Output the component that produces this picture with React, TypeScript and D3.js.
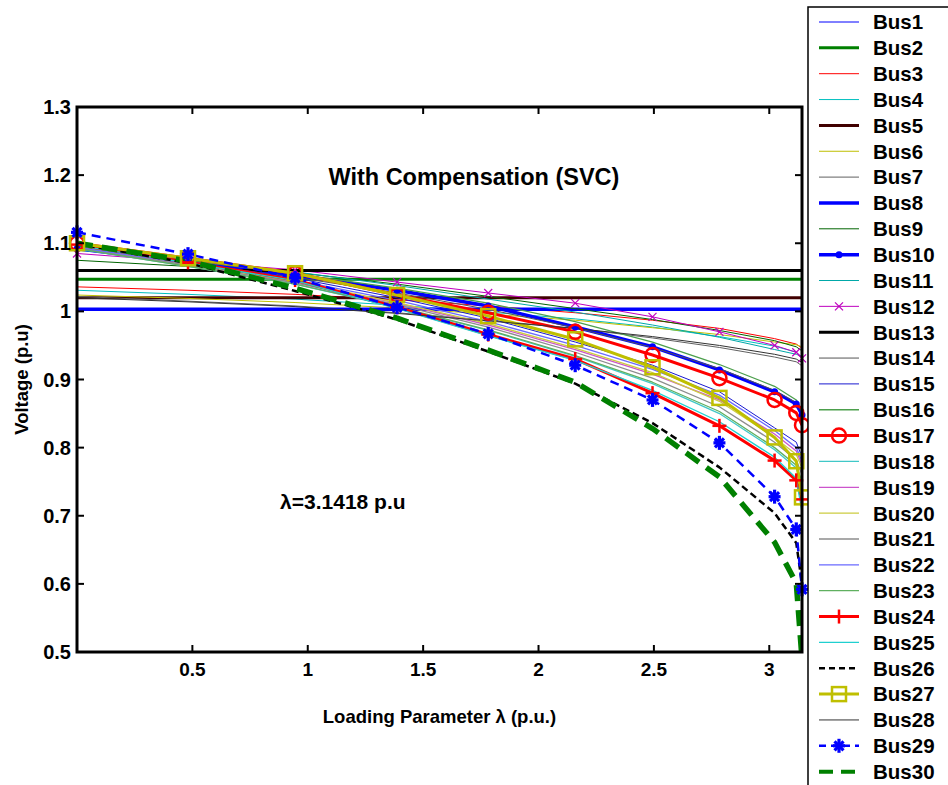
import React from "react";
import * as d3 from "d3";

const lambda = [0, 0.481, 0.945, 1.387, 1.782, 2.159, 2.494, 2.784, 3.023, 3.117, 3.1418];

const bus1 = [1.06, 1.06, 1.06, 1.06, 1.06, 1.06, 1.06, 1.06, 1.06, 1.06, 1.06];
const bus2 = [1.047, 1.047, 1.047, 1.047, 1.047, 1.047, 1.047, 1.047, 1.047, 1.047, 1.047];
const bus3 = [1.036, 1.031, 1.025, 1.017, 1.008, 0.998, 0.987, 0.975, 0.96, 0.952, 0.946];
const bus4 = [1.031, 1.025, 1.018, 1.009, 0.999, 0.989, 0.977, 0.963, 0.949, 0.94, 0.932];
const bus5 = [1.02, 1.02, 1.02, 1.02, 1.02, 1.02, 1.02, 1.02, 1.02, 1.02, 1.02];
const bus6 = [1.024, 1.019, 1.013, 1.005, 0.996, 0.987, 0.976, 0.966, 0.955, 0.951, 0.948];
const bus7 = [1.022, 1.015, 1.008, 0.998, 0.987, 0.975, 0.961, 0.947, 0.933, 0.926, 0.92];
const bus8 = [1.003, 1.003, 1.003, 1.003, 1.003, 1.003, 1.003, 1.003, 1.003, 1.003, 1.003];
const bus9 = [1.075, 1.066, 1.057, 1.04, 1.022, 1.004, 0.988, 0.972, 0.957, 0.948, 0.942];
const bus10 = [1.092, 1.072, 1.053, 1.031, 1.008, 0.977, 0.948, 0.914, 0.882, 0.864, 0.848];
const bus11 = [1.09, 1.075, 1.058, 1.038, 1.018, 0.999, 0.98, 0.962, 0.944, 0.937, 0.934];
const bus12 = [1.085, 1.073, 1.061, 1.043, 1.027, 1.012, 0.992, 0.97, 0.95, 0.94, 0.931];
const bus13 = [1.06, 1.06, 1.06, 1.06, 1.06, 1.06, 1.06, 1.06, 1.06, 1.06, 1.06];
const bus14 = [1.092, 1.071, 1.05, 1.027, 1.003, 0.976, 0.947, 0.916, 0.884, 0.866, 0.852];
const bus15 = [1.095, 1.072, 1.049, 1.02, 0.99, 0.955, 0.921, 0.882, 0.829, 0.808, 0.786];
const bus16 = [1.095, 1.075, 1.055, 1.034, 1.012, 0.985, 0.955, 0.922, 0.89, 0.87, 0.855];
const bus17 = [1.1, 1.078, 1.056, 1.024, 0.998, 0.97, 0.936, 0.902, 0.87, 0.851, 0.833];
const bus18 = [1.092, 1.066, 1.04, 1.006, 0.972, 0.934, 0.894, 0.85, 0.797, 0.77, 0.745];
const bus19 = [1.093, 1.068, 1.043, 1.012, 0.98, 0.944, 0.908, 0.87, 0.82, 0.795, 0.775];
const bus20 = [1.094, 1.069, 1.044, 1.013, 0.982, 0.946, 0.91, 0.868, 0.815, 0.79, 0.77];
const bus21 = [1.093, 1.068, 1.042, 1.01, 0.977, 0.94, 0.902, 0.86, 0.808, 0.782, 0.76];
const bus22 = [1.094, 1.07, 1.046, 1.016, 0.985, 0.95, 0.915, 0.877, 0.825, 0.8, 0.78];
const bus23 = [1.092, 1.066, 1.04, 1.007, 0.973, 0.935, 0.896, 0.853, 0.8, 0.774, 0.75];
const bus24 = [1.098, 1.072, 1.046, 1.006, 0.966, 0.93, 0.88, 0.832, 0.781, 0.752, 0.724];
const bus25 = [1.097, 1.071, 1.045, 1.004, 0.964, 0.928, 0.884, 0.838, 0.786, 0.755, 0.705];
const bus26 = [1.099, 1.071, 1.03, 0.988, 0.941, 0.894, 0.836, 0.771, 0.704, 0.66, 0.6];
const bus27 = [1.1, 1.078, 1.056, 1.024, 0.993, 0.959, 0.918, 0.873, 0.815, 0.78, 0.727];
const bus28 = [1.02, 1.014, 1.007, 0.997, 0.986, 0.975, 0.963, 0.95, 0.937, 0.93, 0.925];
const bus29 = [1.116, 1.084, 1.049, 1.006, 0.967, 0.921, 0.87, 0.807, 0.728, 0.68, 0.592];
const bus30 = [1.1, 1.074, 1.034, 0.99, 0.943, 0.896, 0.828, 0.757, 0.661, 0.601, 0.49];

const busNames = Array.from({ length: 30 }, (_, i) => `Bus${i + 1}`);
const busValues = [
  bus1, bus2, bus3, bus4, bus5, bus6, bus7, bus8, bus9, bus10,
  bus11, bus12, bus13, bus14, bus15, bus16, bus17, bus18, bus19, bus20,
  bus21, bus22, bus23, bus24, bus25, bus26, bus27, bus28, bus29, bus30,
];

const xTicks = [0.5, 1, 1.5, 2, 2.5, 3];
const xTickLabels = ["0.5", "1", "1.5", "2", "2.5", "3"];
const yTicks = [0.5, 0.6, 0.7, 0.8, 0.9, 1.0, 1.1, 1.2, 1.3];
const yTickLabels = ["0.5", "0.6", "0.7", "0.8", "0.9", "1", "1.1", "1.2", "1.3"];

const titleText = "With Compensation (SVC)";
const titlePos = [1.72, 1.197];
const noteText = "λ=3.1418 p.u";
const notePos = [0.88, 0.72];

type Style = { color: string; width: number; dash?: string; marker?: string };
const styles: Style[] = [
  { color: "#0000ff", width: 1 },
  { color: "#008000", width: 3 },
  { color: "#ff0000", width: 1 },
  { color: "#00bfbf", width: 1 },
  { color: "#400000", width: 3 },
  { color: "#bfbf00", width: 1 },
  { color: "#606060", width: 1 },
  { color: "#0000ff", width: 3.5 },
  { color: "#006400", width: 1 },
  { color: "#0000ff", width: 3.5, marker: "dot" },
  { color: "#00a8a8", width: 1 },
  { color: "#bf00bf", width: 1, marker: "x" },
  { color: "#000000", width: 3 },
  { color: "#555555", width: 1 },
  { color: "#1a1ad0", width: 1 },
  { color: "#4c9f4c", width: 1.3 },
  { color: "#ff0000", width: 3, marker: "o" },
  { color: "#40c8c8", width: 1.3 },
  { color: "#cc55cc", width: 1.3 },
  { color: "#cccc40", width: 1.3 },
  { color: "#8c8c8c", width: 1.3 },
  { color: "#6a6aff", width: 1.3 },
  { color: "#60b060", width: 1.3 },
  { color: "#ff0000", width: 3, marker: "+" },
  { color: "#20d0d0", width: 1.3 },
  { color: "#000000", width: 2.5, dash: "7,4" },
  { color: "#bfbf00", width: 3, marker: "s" },
  { color: "#333333", width: 1 },
  { color: "#0000ff", width: 2.5, dash: "9,6", marker: "*" },
  { color: "#008000", width: 5.5, dash: "16,9" },
];

const W = 948;
const H = 785;
const left = 77, right = 802, top = 107, bottom = 652;
const FONT = "'Liberation Sans', Arial, Helvetica, sans-serif";

function Marker({ kind, x, y, color }: { kind?: string; x: number; y: number; color: string }) {
  if (!kind) return null;
  if (kind === "dot") return <circle cx={x} cy={y} r={3.5} fill={color} />;
  if (kind === "o") return <circle cx={x} cy={y} r={7} fill="none" stroke={color} strokeWidth={2.5} />;
  if (kind === "s") return <rect x={x - 7} y={y - 7} width={14} height={14} fill="none" stroke={color} strokeWidth={2.5} />;
  if (kind === "+")
    return (
      <g stroke={color} strokeWidth={2.5}>
        <line x1={x - 7} y1={y} x2={x + 7} y2={y} />
        <line x1={x} y1={y - 7} x2={x} y2={y + 7} />
      </g>
    );
  if (kind === "x")
    return (
      <g stroke={color} strokeWidth={1.2}>
        <line x1={x - 4} y1={y - 4} x2={x + 4} y2={y + 4} />
        <line x1={x - 4} y1={y + 4} x2={x + 4} y2={y - 4} />
      </g>
    );
  if (kind === "*")
    return (
      <g stroke={color} strokeWidth={3.2}>
        <line x1={x - 6} y1={y} x2={x + 6} y2={y} />
        <line x1={x} y1={y - 7} x2={x} y2={y + 7} />
        <line x1={x - 4.5} y1={y - 4.5} x2={x + 4.5} y2={y + 4.5} />
        <line x1={x - 4.5} y1={y + 4.5} x2={x + 4.5} y2={y - 4.5} />
      </g>
    );
  return null;
}

export default function App() {
  const x = d3.scaleLinear().domain([0, 3.1418]).range([left, right]);
  const y = d3.scaleLinear().domain([0.5, 1.3]).range([bottom, top]);
  const line = d3
    .line<number>()
    .x((_, i) => x(lambda[i]))
    .y((d) => y(d));

  const legX = 808;
  const legY = 7;
  const rowY = (i: number) => 22 + 25.85 * i;

  return (
    <svg width={W} height={H} style={{ position: "absolute", left: 0, top: 0, background: "#fff" }} fontFamily={FONT}>
      <rect x={0} y={0} width={W} height={H} fill="#fff" />
      <defs>
        <clipPath id="plotclip">
          <rect x={left} y={top} width={right - left} height={bottom - top} />
        </clipPath>
      </defs>
      <g clipPath="url(#plotclip)">
        {busValues.map((vals, i) => (
          <path
            key={i}
            d={line(vals) || ""}
            fill="none"
            stroke={styles[i].color}
            strokeWidth={styles[i].width}
            strokeDasharray={styles[i].dash}
            strokeLinejoin="round"
          />
        ))}
      </g>
      {busValues.map((vals, i) =>
        styles[i].marker ? (
          <g key={"m" + i}>
            {vals.map((v, j) => (
              <Marker key={j} kind={styles[i].marker} x={x(lambda[j])} y={y(v)} color={styles[i].color} />
            ))}
          </g>
        ) : null
      )}

      {/* axes box */}
      <rect x={left} y={top} width={right - left} height={bottom - top} fill="none" stroke="#000" strokeWidth={3} />
      {xTicks.map((t, i) => (
        <g key={"xt" + i}>
          <line x1={x(t)} x2={x(t)} y1={bottom} y2={bottom - 7} stroke="#000" strokeWidth={2} />
          <line x1={x(t)} x2={x(t)} y1={top} y2={top + 7} stroke="#000" strokeWidth={2} />
          <text x={x(t)} y={bottom + 24} textAnchor="middle" fontSize={19} fontWeight="bold">
            {xTickLabels[i]}
          </text>
        </g>
      ))}
      {yTicks.map((t, i) => (
        <g key={"yt" + i}>
          <line x1={left} x2={left + 7} y1={y(t)} y2={y(t)} stroke="#000" strokeWidth={2} />
          <line x1={right} x2={right - 7} y1={y(t)} y2={y(t)} stroke="#000" strokeWidth={2} />
          <text x={left - 6} y={y(t)} dy="0.35em" textAnchor="end" fontSize={20} fontWeight="bold">
            {yTickLabels[i]}
          </text>
        </g>
      ))}

      <text x={(left + right) / 2} y={723} textAnchor="middle" fontSize={18.5} fontWeight="bold">
        Loading Parameter λ (p.u.)
      </text>
      <text
        transform={`translate(28, ${(top + bottom) / 2}) rotate(-90)`}
        textAnchor="middle"
        fontSize={18.5}
        fontWeight="bold"
      >
        Voltage (p.u)
      </text>

      <text x={x(titlePos[0])} y={y(titlePos[1])} dy="0.35em" textAnchor="middle" fontSize={23.5} fontWeight="bold">
        {titleText}
      </text>
      <text x={x(notePos[0])} y={y(notePos[1])} dy="0.35em" textAnchor="start" fontSize={21} fontWeight="bold">
        {noteText}
      </text>

      {/* legend */}
      <rect x={legX} y={legY} width={200} height={900} fill="#fff" stroke="#000" strokeWidth={1.5} />
      {busNames.map((name, i) => {
        const s = styles[i];
        const cy = rowY(i);
        return (
          <g key={"lg" + i}>
            <line
              x1={819}
              x2={859}
              y1={cy}
              y2={cy}
              stroke={s.color}
              strokeWidth={Math.min(s.width, 4)}
              strokeDasharray={s.dash ? (i === 29 ? "14,8" : i === 28 ? "7,5" : "6,4") : undefined}
            />
            <Marker kind={s.marker} x={839} y={cy} color={s.color} />
            <text x={873} y={cy} dy="0.36em" fontSize={20.5} fontWeight="bold">
              {name}
            </text>
          </g>
        );
      })}
    </svg>
  );
}
